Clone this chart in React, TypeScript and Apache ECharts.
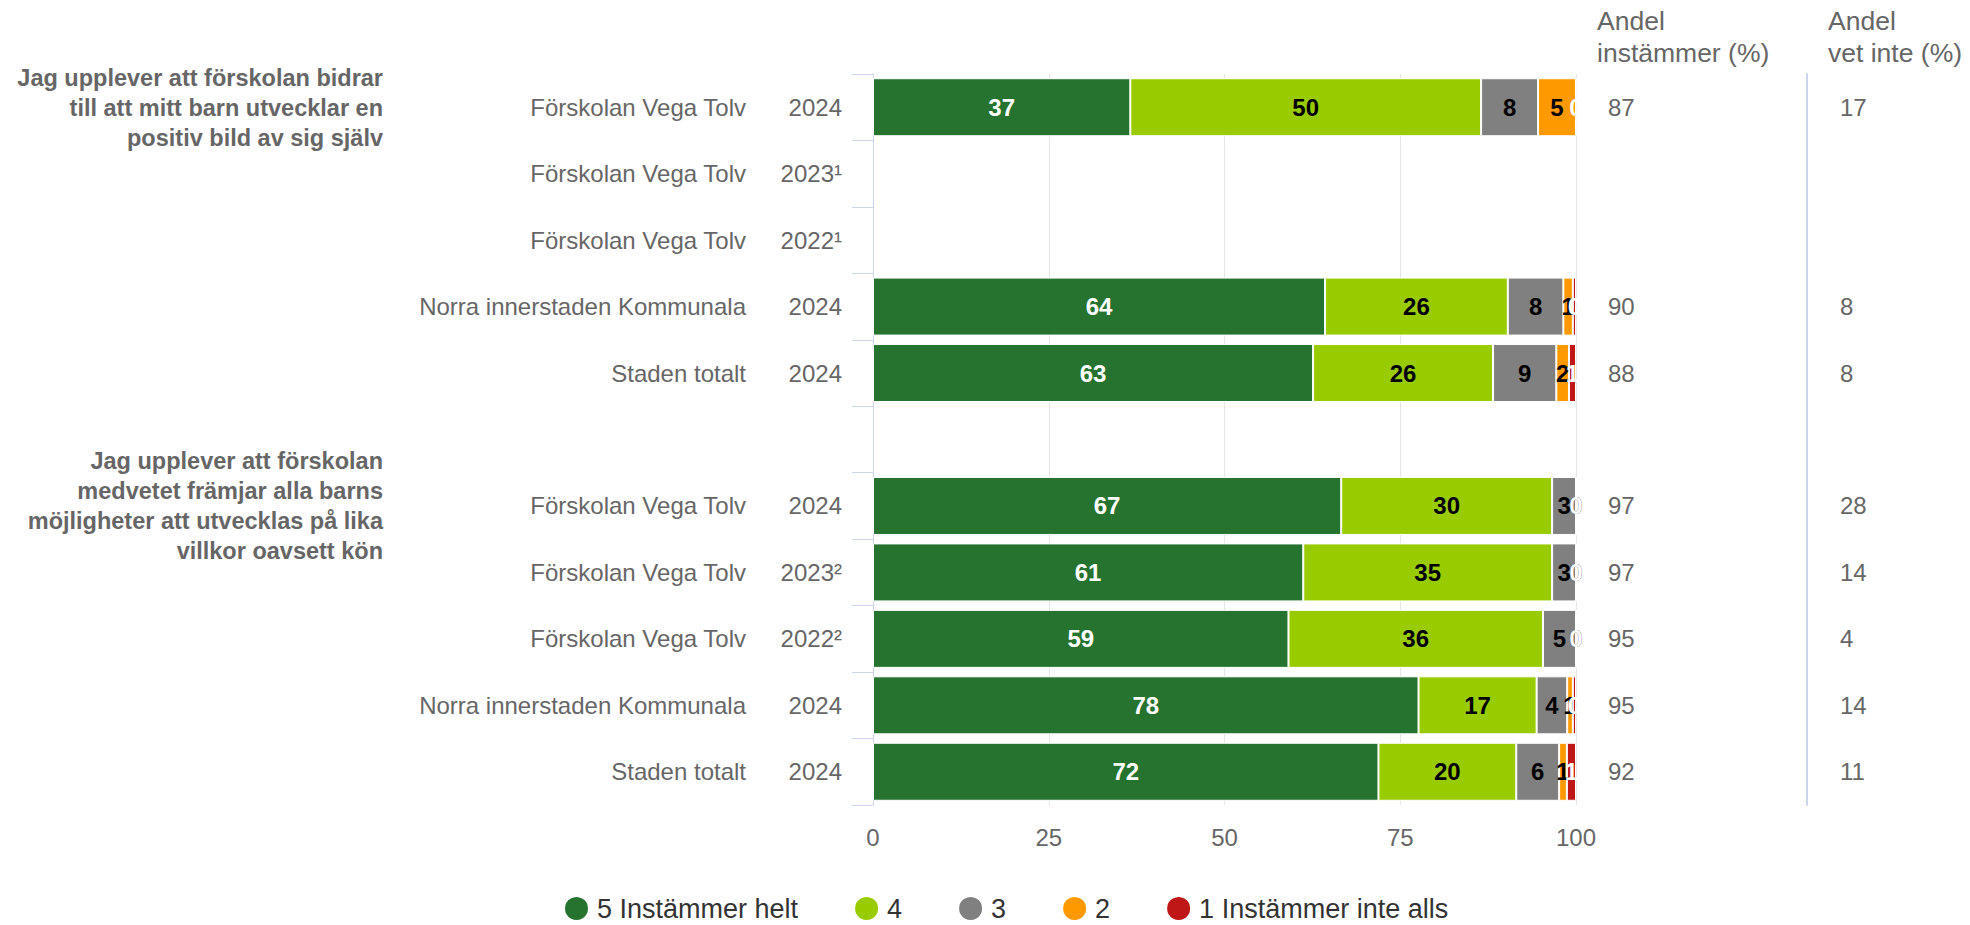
import React, { useEffect, useRef } from 'react';
import * as echarts from 'echarts';

const FONT = '"Liberation Sans", Arial, Helvetica, sans-serif';

const names = [
  'Förskolan Vega Tolv', 'Förskolan Vega Tolv', 'Förskolan Vega Tolv',
  'Norra innerstaden Kommunala', 'Staden totalt', '',
  'Förskolan Vega Tolv', 'Förskolan Vega Tolv', 'Förskolan Vega Tolv',
  'Norra innerstaden Kommunala', 'Staden totalt',
];
const years = ['2024', '2023¹', '2022¹', '2024', '2024', '', '2024', '2023²', '2022²', '2024', '2024'];

const seriesNames = ['5 Instämmer helt', '4', '3', '2', '1 Instämmer inte alls'];
const colors = ['#267330', '#99cc00', '#808080', '#ff9900', '#bf1717'];
const labelColors = ['#ffffff', '#000000', '#000000', '#000000', '#ffffff'];

const v5 = [36.6, null, null, 64.3, 62.6, null, 66.6, 61.2, 59.1, 77.6, 71.9];
const v4 = [49.9, null, null, 26.0, 25.6, null, 30.0, 35.4, 36.2, 16.8, 19.6];
const v3 = [8.1, null, null, 7.9, 9.0, null, 3.4, 3.4, 4.7, 4.35, 6.1];
const v2 = [5.4, null, null, 1.35, 1.8, null, 0, 0, 0, 0.8, 1.1];
const v1 = [0, null, null, 0.45, 1.0, null, 0, 0, 0, 0.45, 1.3];
const seriesValues = [v5, v4, v3, v2, v1];

const andelInstammer = ['87', '', '', '90', '88', '', '97', '97', '95', '95', '92'];
const andelVetInte = ['17', '', '', '8', '8', '', '28', '14', '4', '14', '11'];

const xTicks = [0, 25, 50, 75, 100];

const questions = [
  'Jag upplever att förskolan bidrar\ntill att mitt barn utvecklar en\npositiv bild av sig själv',
  'Jag upplever att förskolan\nmedvetet främjar alla barns\nmöjligheter att utvecklas på lika\nvillkor oavsett kön',
];
const headers = ['Andel\ninstämmer (%)', 'Andel\nvet inte (%)'];

export default function App() {
  const ref = useRef<HTMLDivElement>(null);

  useEffect(() => {
    if (!ref.current) return;
    const chart = echarts.init(ref.current, null, { renderer: 'svg' });

    const series = seriesNames.map((name, i) => ({
      name,
      type: 'bar',
      stack: 'total',
      yAxisIndex: 0,
      barWidth: 58,
      itemStyle: { color: colors[i], borderColor: '#ffffff', borderWidth: 1 },
      label: {
        show: true,
        position: 'inside',
        color: labelColors[i],
        fontFamily: FONT,
        fontSize: 24,
        fontWeight: 'bold',
        formatter: (p: any) => (p.value == null ? '' : String(Math.round(p.value))),
      },
      data: seriesValues[i],
    }));

    const textCommon = { fontFamily: FONT, color: '#666666' };

    chart.setOption({
      animation: false,
      backgroundColor: '#ffffff',
      grid: { left: 873, right: 394, top: 74, bottom: 120, containLabel: false },
      xAxis: {
        type: 'value',
        min: xTicks[0],
        max: xTicks[xTicks.length - 1],
        interval: 25,
        axisLine: { show: false },
        axisTick: { show: false },
        splitLine: { show: true, lineStyle: { color: '#e6e6e6', width: 1 } },
        axisLabel: { ...textCommon, fontSize: 24, margin: 20 },
      },
      yAxis: [
        {
          type: 'category',
          data: years,
          inverse: true,
          position: 'left',
          axisLine: { show: true, lineStyle: { color: '#ccd6eb', width: 1 } },
          axisTick: { show: true, length: 21, lineStyle: { color: '#ccd6eb', width: 1 } },
          axisLabel: { ...textCommon, fontSize: 24, margin: 31 },
        },
        {
          type: 'category',
          data: names,
          inverse: true,
          position: 'left',
          axisLine: { show: false },
          axisTick: { show: false },
          axisLabel: { ...textCommon, fontSize: 24, margin: 127 },
        },
        {
          type: 'category',
          data: andelInstammer,
          inverse: true,
          position: 'right',
          offset: 0,
          axisLine: { show: false },
          axisTick: { show: false },
          axisLabel: { ...textCommon, fontSize: 24, margin: 32 },
        },
        {
          type: 'category',
          data: andelVetInte,
          inverse: true,
          position: 'right',
          offset: 231,
          axisLine: { show: true, lineStyle: { color: '#ccd6eb', width: 2 } },
          axisTick: { show: false },
          axisLabel: { ...textCommon, fontSize: 24, margin: 33 },
        },
      ],
      legend: {
        data: seriesNames,
        left: 558,
        top: 890,
        icon: 'circle',
        itemWidth: 25,
        itemHeight: 25,
        itemGap: 55,
        textStyle: { fontFamily: FONT, fontSize: 27, color: '#333333', padding: [0, 0, 0, 3] },
      },
      graphic: [
        {
          type: 'text',
          x: 383,
          y: 63,
          style: {
            text: questions[0],
            align: 'right',
            verticalAlign: 'top',
            lineHeight: 30,
            font: `bold 23.5px ${FONT}`,
            fill: '#666666',
          },
        },
        {
          type: 'text',
          x: 383,
          y: 446,
          style: {
            text: questions[1],
            align: 'right',
            verticalAlign: 'top',
            lineHeight: 30,
            font: `bold 23.5px ${FONT}`,
            fill: '#666666',
          },
        },
        {
          type: 'text',
          x: 1597,
          y: 5,
          style: {
            text: headers[0],
            align: 'left',
            verticalAlign: 'top',
            lineHeight: 32,
            font: `26.5px ${FONT}`,
            fill: '#666666',
          },
        },
        {
          type: 'text',
          x: 1828,
          y: 5,
          style: {
            text: headers[1],
            align: 'left',
            verticalAlign: 'top',
            lineHeight: 32,
            font: `26.5px ${FONT}`,
            fill: '#666666',
          },
        },
      ],
      series,
    });

    return () => chart.dispose();
  }, []);

  return (
    <div
      ref={ref}
      style={{ position: 'absolute', left: 0, top: 0, width: 1970, height: 925, background: '#fff' }}
    />
  );
}
